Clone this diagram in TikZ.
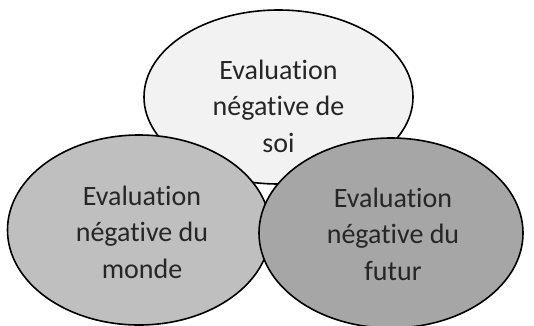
\documentclass[tikz,border=0pt]{standalone}
\usepackage{fontspec}
\setmainfont[Ligatures=NoCommon]{Carlito}
\usetikzlibrary{shapes.geometric}
\definecolor{topfill}{HTML}{F2F2F2}
\definecolor{leftfill}{HTML}{BFBFBF}
\definecolor{rightfill}{HTML}{A6A6A6}
\definecolor{txt}{HTML}{262626}
\tikzset{
  blob/.style={ellipse, draw=black, line width=1.6pt, inner sep=0pt},
  lbl/.style={align=center, text=txt, inner sep=0pt, anchor=base,
    font=\fontsize{28}{36.5}\selectfont}
}
\begin{document}
\begin{tikzpicture}[x=1pt,y=-1pt]
\useasboundingbox (0,0) rectangle (534,325);
\node[blob, fill=topfill, minimum width=269pt, minimum height=174pt] (soi) at (278.5,97) {};
\node[blob, fill=leftfill, minimum width=263pt, minimum height=190pt] (monde) at (139,230) {};
\node[blob, fill=rightfill, minimum width=264pt, minimum height=190pt] (futur) at (391,233) {};
\node[lbl] (tsoi) at (278.5,152) {Evaluation\\négative de\\soi};
\node[lbl] (tmonde) at (142,278) {Evaluation\\négative du\\monde};
\node[lbl] (tfutur) at (393,280) {Evaluation\\négative du\\futur};
\end{tikzpicture}
\end{document}
